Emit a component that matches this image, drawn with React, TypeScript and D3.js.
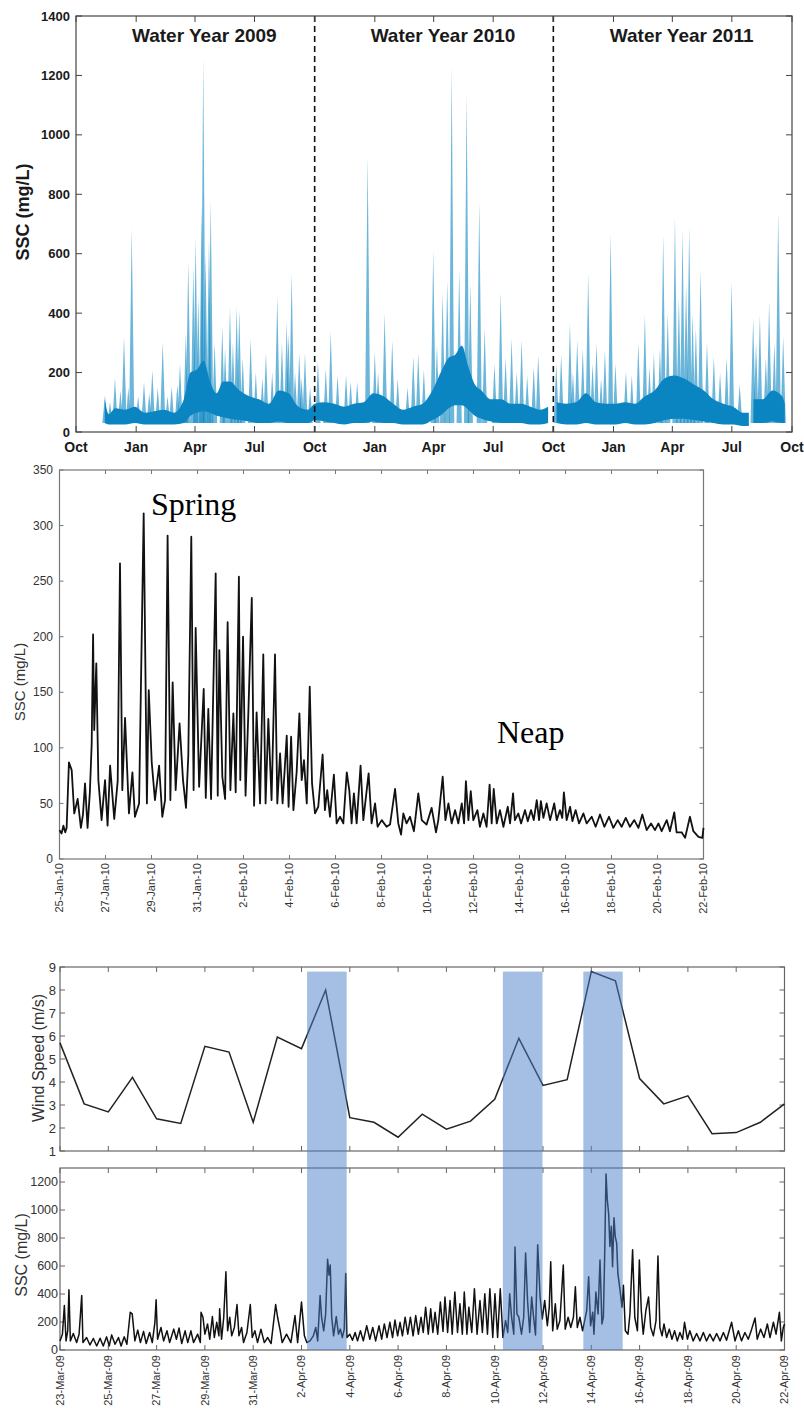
import React from "react";
import * as d3 from "d3";

const DAY = 864e5;

// ---------- panel A: SSC over three water years ----------
const wyStart = Date.UTC(2008, 9, 1);
const wyEnd = Date.UTC(2011, 9, 1);
const wyBreaks = [Date.UTC(2009, 9, 1), Date.UTC(2010, 9, 1)];
const wyLabels = ["Water Year 2009", "Water Year 2010", "Water Year 2011"];
// envelope of the dense 15-min record, days after 1-Oct-2008 (null = gap)
const wyEnvDays = [44, 50, 60, 75, 90, 105, 120, 135, 150, 165, 175, 185, 195, 205, 215, 225, 235, 250, 265, 280, 295, 310, 325, 340, 355, 365, 380, 395, 410, 425, 440, 455, 470, 485, 500, 515, 530, 545, 560, 570, 580, 590, 600, 610, 620, 635, 650, 665, 680, 695, 710, 722, 728, 735, 750, 765, 780, 795, 810, 825, 840, 855, 870, 885, 900, 915, 930, 945, 960, 975, 990, 1005, 1020, 1029, 1032, 1036, 1050, 1065, 1080, 1084];
const wyEnvLow = [30, 25, 25, 25, 30, 25, 25, 25, 25, 30, 55, 65, 70, 65, 55, 50, 45, 40, 35, 30, 30, 35, 30, 30, 30, 40, 35, 30, 25, 30, 30, 35, 30, 30, 25, 25, 25, 40, 60, 80, 90, 90, 75, 55, 45, 35, 30, 30, 30, 25, 25, 30, null, 30, 25, 25, 30, 25, 25, 25, 30, 25, 25, 30, 40, 45, 45, 40, 35, 30, 25, 25, 20, 20, null, 30, 30, 35, 30, 30];
const wyEnvHigh = [110, 60, 80, 75, 85, 65, 70, 75, 65, 110, 200, 210, 240, 170, 130, 170, 170, 140, 120, 110, 95, 140, 130, 85, 75, 95, 100, 95, 85, 95, 100, 130, 120, 95, 75, 85, 95, 140, 210, 250, 260, 290, 220, 160, 140, 110, 110, 95, 95, 85, 75, 85, null, 100, 95, 100, 130, 100, 95, 95, 100, 95, 120, 140, 180, 190, 180, 160, 140, 110, 95, 85, 65, 65, null, 110, 110, 140, 120, 95];
// event spikes: [days after 1-Oct-2008, peak mg/L]
const wySpikes = [
  [44.3, 123], [52, 100], [59.6, 180], [68, 140], [73.4, 320], [80, 150], [85.2, 685], [95, 120], [104, 168], [112, 130],
  [116.7, 208], [125, 150], [132.6, 303], [140, 120], [146.3, 152], [155, 160], [159, 230], [168, 330], [171.7, 573], [179.4, 556],
  [183, 651], [187, 450], [192.2, 763], [194.6, 1257], [198, 600], [203.4, 651], [206, 780], [212, 300], [223.7, 354], [228, 280],
  [235.5, 421], [240, 300], [245.7, 421], [249.7, 410], [255, 250], [267.1, 315], [275, 200], [285, 180], [290.5, 265], [300, 200],
  [307.8, 455], [315, 300], [322.2, 370], [325, 330], [329.8, 533], [335, 200], [341.4, 265], [345, 180], [350.2, 265], [358, 150],
  [370, 236], [382, 213], [389.6, 337], [400, 190], [413, 191], [420, 170], [430, 168], [446, 926], [457, 269], [462, 200],
  [472, 399], [483.6, 309], [492, 180], [507, 150], [515.8, 253], [523.4, 264], [532, 210], [546.3, 612], [552, 290], [560.7, 466],
  [567.7, 511], [574.5, 1229], [586, 545], [597.4, 1140], [603, 500], [616.7, 775], [625, 350], [640, 230], [649.4, 472], [657, 250],
  [666.2, 315], [674, 200], [681.5, 309], [690, 190], [700, 220], [706.9, 258],
  [734.5, 230], [742, 260], [755.4, 365], [760, 200], [766.5, 309], [775, 280], [783.3, 533], [790, 230], [796, 298], [803, 180],
  [808.9, 275], [817.6, 668], [825, 230], [841, 203], [850, 190], [860, 300], [870, 393], [877, 220], [883.8, 264], [893, 280],
  [898, 662], [905, 400], [916, 724], [922, 450], [927.6, 679], [933, 500], [937.8, 690], [943, 400], [948, 350], [955.2, 545],
  [965, 300], [975.5, 253], [985, 200], [995, 250], [1002.6, 505], [1015, 160], [1035.6, 382], [1040, 300], [1045.9, 393], [1055, 250],
  [1060, 438], [1068, 300], [1073.9, 741], [1081.5, 320],
];

// ---------- panel B: spring-neap SSC, days after 25-Jan-2010 ----------
const snStart = Date.UTC(2010, 0, 25);
const snLength = 28;
const snSeries = [
  [0, 26], [0.09, 23], [0.17, 30], [0.25, 24], [0.31, 28], [0.41, 87], [0.53, 80], [0.64, 41], [0.79, 54], [0.93, 28],
  [1.02, 40], [1.11, 68], [1.22, 28], [1.32, 60], [1.4, 104], [1.46, 202], [1.51, 116], [1.6, 176], [1.69, 71], [1.83, 35],
  [1.98, 71], [2.09, 30], [2.2, 84], [2.38, 36], [2.53, 70], [2.63, 266], [2.73, 62], [2.85, 127], [3.02, 41], [3.17, 78],
  [3.28, 38], [3.46, 50], [3.66, 311], [3.8, 50], [3.88, 152], [4.01, 87], [4.15, 53], [4.33, 84], [4.47, 38], [4.59, 53],
  [4.7, 291], [4.82, 53], [4.92, 159], [5.05, 62], [5.22, 122], [5.37, 71], [5.5, 46], [5.6, 93], [5.73, 290], [5.83, 62],
  [5.92, 208], [6.07, 65], [6.27, 153], [6.36, 55], [6.47, 135], [6.59, 54], [6.79, 257], [6.88, 57], [6.95, 188], [7.08, 74],
  [7.2, 54], [7.31, 213], [7.43, 62], [7.56, 131], [7.66, 60], [7.8, 254], [7.86, 71], [7.98, 200], [8.09, 57], [8.21, 131],
  [8.36, 235], [8.46, 48], [8.57, 132], [8.72, 50], [8.86, 184], [8.96, 50], [9.08, 126], [9.22, 53], [9.37, 184], [9.47, 50],
  [9.59, 95], [9.7, 50], [9.88, 111], [9.96, 47], [10.07, 110], [10.17, 44], [10.31, 78], [10.43, 131], [10.53, 71], [10.63, 89],
  [10.75, 50], [10.88, 155], [10.98, 68], [11.11, 41], [11.25, 47], [11.44, 94], [11.54, 44], [11.64, 62], [11.76, 38], [11.93, 76],
  [12.05, 32], [12.2, 38], [12.34, 32], [12.49, 78], [12.6, 62], [12.7, 32], [12.8, 59], [12.92, 32], [13.09, 84], [13.21, 35],
  [13.33, 57], [13.44, 77], [13.57, 32], [13.72, 50], [13.83, 29], [14.01, 35], [14.22, 29], [14.37, 31], [14.59, 63], [14.73, 32],
  [14.85, 22], [14.95, 41], [15.09, 32], [15.24, 38], [15.41, 25], [15.6, 59], [15.75, 35], [15.96, 31], [16.18, 46], [16.37, 24],
  [16.47, 35], [16.66, 74], [16.78, 35], [16.91, 50], [17.05, 32], [17.2, 44], [17.34, 32], [17.49, 50], [17.59, 32], [17.67, 70],
  [17.78, 35], [17.88, 61], [17.99, 35], [18.17, 44], [18.28, 29], [18.43, 41], [18.57, 29], [18.7, 67], [18.79, 32], [18.88, 63],
  [19.01, 32], [19.15, 44], [19.3, 29], [19.49, 47], [19.59, 32], [19.72, 59], [19.8, 35], [19.95, 41], [20.07, 32], [20.24, 44],
  [20.36, 34], [20.5, 44], [20.62, 35], [20.75, 53], [20.85, 35], [20.93, 52], [21.04, 37], [21.18, 50], [21.33, 35], [21.51, 50],
  [21.62, 35], [21.76, 44], [21.86, 37], [21.93, 60], [22.05, 35], [22.2, 47], [22.3, 34], [22.44, 44], [22.59, 32], [22.78, 41],
  [22.92, 32], [23.14, 38], [23.31, 29], [23.5, 40], [23.69, 29], [23.89, 38], [24.08, 28], [24.27, 35], [24.44, 29], [24.62, 37],
  [24.8, 29], [24.99, 35], [25.17, 28], [25.34, 40], [25.53, 26], [25.72, 32], [25.89, 26], [26.04, 32], [26.18, 25], [26.4, 35],
  [26.54, 25], [26.73, 42], [26.83, 24], [27.05, 24], [27.2, 19], [27.41, 38], [27.56, 25], [27.78, 20], [27.95, 19], [28, 28],
];

// ---------- panel C: wind and SSC, days after 23-Mar-2009 ----------
const stStart = Date.UTC(2009, 2, 23);
const stLength = 30;
const windSpeed = [5.7, 3.05, 2.7, 4.2, 2.4, 2.2, 5.55, 5.3, 2.25, 5.95, 5.45, 8.0, 2.45, 2.25, 1.6, 2.6, 1.95, 2.3, 3.25, 5.9, 3.85, 4.1, 8.8, 8.4, 4.15, 3.05, 3.4, 1.75, 1.8, 2.25, 3.05];
const stormBands = [[10.23, 11.87], [18.34, 19.98], [21.67, 23.3]];
const bandTopWind = 8.8;
const stormSSC = [
  [0, 65], [0.1, 113], [0.18, 318], [0.25, 65], [0.32, 137], [0.37, 431], [0.43, 65], [0.55, 118], [0.69, 53], [0.79, 113],
  [0.9, 390], [0.95, 53], [1.1, 89], [1.24, 36], [1.38, 82], [1.52, 29], [1.66, 84], [1.79, 29], [1.93, 94], [2.04, 29],
  [2.14, 108], [2.28, 41], [2.42, 89], [2.53, 29], [2.66, 94], [2.77, 41], [2.91, 270], [2.99, 258], [3.1, 65], [3.22, 142],
  [3.33, 53], [3.46, 133], [3.57, 46], [3.71, 125], [3.82, 53], [3.93, 198], [3.98, 359], [4.04, 77], [4.18, 161], [4.29, 65],
  [4.43, 137], [4.54, 53], [4.71, 149], [4.82, 77], [4.93, 157], [5.04, 46], [5.18, 137], [5.29, 53], [5.42, 137], [5.53, 53],
  [5.7, 113], [5.81, 53], [5.84, 270], [5.92, 234], [6.0, 113], [6.11, 186], [6.2, 77], [6.31, 239], [6.39, 89], [6.49, 198],
  [6.58, 101], [6.61, 294], [6.69, 77], [6.78, 234], [6.87, 559], [6.94, 137], [7.03, 234], [7.11, 101], [7.22, 161], [7.33, 325],
  [7.41, 101], [7.52, 161], [7.6, 53], [7.74, 125], [7.88, 325], [7.96, 89], [8.07, 137], [8.18, 53], [8.32, 149], [8.46, 53],
  [8.6, 89], [8.74, 46], [8.93, 325], [9.01, 234], [9.12, 137], [9.2, 53], [9.38, 113], [9.56, 53], [9.73, 246], [9.84, 53],
  [10.0, 342], [10.12, 101], [10.22, 53], [10.35, 65], [10.49, 101], [10.59, 161], [10.67, 65], [10.77, 390], [10.83, 234], [10.92, 137],
  [11.0, 258], [11.08, 648], [11.14, 535], [11.19, 607], [11.25, 234], [11.33, 101], [11.44, 239], [11.53, 113], [11.61, 149], [11.69, 89],
  [11.77, 149], [11.83, 547], [11.88, 89], [12.0, 113], [12.11, 70], [12.22, 125], [12.32, 65], [12.44, 137], [12.56, 65], [12.7, 173],
  [12.83, 77], [12.95, 161], [13.07, 65], [13.21, 173], [13.32, 77], [13.43, 186], [13.54, 89], [13.66, 198], [13.77, 89], [13.87, 214],
  [13.98, 101], [14.08, 198], [14.18, 101], [14.29, 234], [14.4, 113], [14.51, 234], [14.62, 101], [14.73, 246], [14.84, 113], [14.95, 234],
  [15.04, 125], [15.14, 306], [15.25, 113], [15.35, 294], [15.44, 125], [15.53, 270], [15.64, 113], [15.75, 342], [15.86, 133], [15.94, 378],
  [16.05, 125], [16.15, 354], [16.24, 113], [16.35, 414], [16.46, 125], [16.56, 330], [16.66, 113], [16.74, 414], [16.85, 113], [16.93, 306],
  [17.05, 125], [17.16, 438], [17.27, 113], [17.39, 354], [17.49, 125], [17.59, 402], [17.7, 113], [17.8, 438], [17.92, 89], [18.01, 402],
  [18.12, 89], [18.23, 438], [18.34, 89], [18.45, 210], [18.54, 125], [18.62, 402], [18.7, 234], [18.79, 113], [18.84, 735], [18.92, 258],
  [19.0, 234], [19.11, 113], [19.2, 234], [19.28, 692], [19.36, 354], [19.45, 125], [19.53, 378], [19.61, 234], [19.69, 108], [19.78, 752],
  [19.88, 378], [19.97, 222], [20.07, 354], [20.18, 173], [20.26, 306], [20.32, 631], [20.4, 137], [20.51, 330], [20.59, 149], [20.7, 210],
  [20.84, 607], [20.92, 149], [21.04, 234], [21.15, 161], [21.26, 234], [21.34, 451], [21.42, 161], [21.53, 234], [21.64, 137], [21.81, 282],
  [21.89, 523], [21.97, 173], [22.06, 270], [22.11, 113], [22.19, 414], [22.28, 258], [22.36, 643], [22.44, 186], [22.5, 234], [22.55, 643],
  [22.61, 1258], [22.66, 1077], [22.72, 969], [22.77, 740], [22.83, 884], [22.88, 595], [22.94, 945], [22.99, 812], [23.05, 764], [23.1, 547],
  [23.19, 427], [23.27, 306], [23.33, 463], [23.41, 137], [23.52, 113], [23.6, 258], [23.71, 716], [23.8, 234], [23.91, 137], [23.99, 643],
  [24.07, 282], [24.15, 113], [24.26, 282], [24.37, 378], [24.46, 161], [24.57, 101], [24.68, 210], [24.76, 672], [24.84, 161], [24.93, 101],
  [25.01, 186], [25.12, 89], [25.23, 149], [25.34, 77], [25.45, 137], [25.56, 65], [25.67, 125], [25.78, 77], [25.86, 198], [25.98, 77],
  [26.08, 137], [26.22, 65], [26.36, 118], [26.5, 65], [26.64, 125], [26.77, 65], [26.91, 113], [27.05, 65], [27.19, 118], [27.33, 65],
  [27.47, 125], [27.6, 70], [27.81, 198], [27.95, 65], [28.09, 137], [28.22, 65], [28.36, 125], [28.5, 77], [28.64, 149], [28.78, 229],
  [28.87, 77], [29.01, 149], [29.15, 89], [29.29, 186], [29.4, 89], [29.54, 198], [29.65, 113], [29.79, 270], [29.87, 65], [29.95, 161],
  [30.0, 186],
];

const sans = "'Liberation Sans', Arial, sans-serif";
const serif = "'Liberation Serif', 'Times New Roman', serif";
const at = (start: number, d: number) => new Date(start + d * DAY);

// frame with inward ticks on all four sides
const Frame = ({ x, y, xt, yt, len = 5, stroke = "#555" }: any) => {
  const [x0, x1] = x.range();
  const [y0, y1] = y.range();
  return (
    <g stroke={stroke} fill="none">
      {xt.map((t: any, i: number) => (
        <g key={"x" + i}>
          <line x1={x(t)} x2={x(t)} y1={y0} y2={y0 - len} />
          <line x1={x(t)} x2={x(t)} y1={y1} y2={y1 + len} />
        </g>
      ))}
      {yt.map((t: any, i: number) => (
        <g key={"y" + i}>
          <line x1={x0} x2={x0 + len} y1={y(t)} y2={y(t)} />
          <line x1={x1} x2={x1 - len} y1={y(t)} y2={y(t)} />
        </g>
      ))}
      <rect x={x0} y={y1} width={x1 - x0} height={y0 - y1} strokeWidth={1.2} />
    </g>
  );
};

const WaterYears = () => {
  const x = d3.scaleUtc().domain([wyStart, wyEnd]).range([76, 792]);
  const y = d3.scaleLinear().domain([0, 1400]).range([432, 16]);
  const env = wyEnvDays.map((d, i) => ({ t: at(wyStart, d), lo: wyEnvLow[i], hi: wyEnvHigh[i] }));
  const band = d3.area<any>().defined((d) => d.lo != null).x((d) => x(d.t)).y0((d) => y(d.lo)).y1((d) => y(d.hi)).curve(d3.curveMonotoneX);
  const months = x.ticks(d3.utcMonth.every(3) as any);
  const yt = d3.range(0, 1401, 200);
  const fmt = d3.utcFormat("%b");
  const bounds = [wyStart, ...wyBreaks, wyEnd];
  return (
    <g>
      {wySpikes.map(([d, v], i) => {
        const p = d3.path();
        p.moveTo(x(at(wyStart, d - 4)), y(30));
        p.lineTo(x(at(wyStart, d)), y(v));
        p.lineTo(x(at(wyStart, d + 4)), y(30));
        p.closePath();
        return <path key={i} d={p.toString()} fill="#0a85c2" opacity={0.6} />;
      })}
      <path d={band(env) || ""} fill="#0a85c2" />
      {wyBreaks.map((b, i) => (
        <line key={i} x1={x(b)} x2={x(b)} y1={16} y2={432} stroke="#111" strokeWidth={1.6} strokeDasharray="6,4" />
      ))}
      <Frame x={x} y={y} xt={months} yt={yt} len={6} stroke="#444" />
      <g fontFamily={sans} fontWeight="bold" fill="#1a1a1a">
        {yt.map((t) => (
          <text key={t} x={70} y={y(t)} dy="0.35em" textAnchor="end" fontSize={13}>{t}</text>
        ))}
        {months.map((t, i) => (
          <text key={i} x={x(t)} y={452} textAnchor="middle" fontSize={14}>{fmt(t)}</text>
        ))}
        {wyLabels.map((l, i) => (
          <text key={l} x={(x(bounds[i]) + x(bounds[i + 1])) / 2 + 9} y={42} textAnchor="middle" fontSize={19}>{l}</text>
        ))}
        <text transform="translate(29,212) rotate(-90)" textAnchor="middle" fontSize={18}>SSC (mg/L)</text>
      </g>
    </g>
  );
};

const SpringNeap = () => {
  const x = d3.scaleUtc().domain([at(snStart, 0), at(snStart, snLength)]).range([59.5, 703.5]);
  const y = d3.scaleLinear().domain([0, 350]).range([859, 470]);
  const line = d3.line<any>().x((d) => x(at(snStart, d[0]))).y((d) => y(d[1]));
  const xt = d3.range(0, snLength + 1, 2).map((d) => at(snStart, d));
  const yt = d3.range(0, 351, 50);
  const fmt = d3.utcFormat("%-d-%b-%y");
  return (
    <g>
      <Frame x={x} y={y} xt={xt} yt={yt} len={4} stroke="#777" />
      <path d={line(snSeries) || ""} fill="none" stroke="#111" strokeWidth={1.8} strokeLinejoin="round" />
      <g fontFamily={sans} fill="#333">
        {yt.map((t) => (
          <text key={t} x={53} y={y(t)} dy="0.35em" textAnchor="end" fontSize={12}>{t}</text>
        ))}
        {xt.map((t, i) => (
          <text key={i} transform={`translate(${x(t)},${863}) rotate(-90)`} dy="0.35em" textAnchor="end" fontSize={11}>{fmt(t)}</text>
        ))}
        <text transform="translate(25,682) rotate(-90)" textAnchor="middle" fontSize={15}>SSC (mg/L)</text>
      </g>
      <g fontFamily={serif} fill="#000" fontSize={32}>
        <text x={151} y={515}>Spring</text>
        <text x={497} y={743}>Neap</text>
      </g>
    </g>
  );
};

const WindStorm = () => {
  const x = d3.scaleUtc().domain([at(stStart, 0), at(stStart, stLength)]).range([60, 784.5]);
  const yw = d3.scaleLinear().domain([1, 9]).range([1151, 967]);
  const ys = d3.scaleLinear().domain([0, 1300]).range([1350, 1168]);
  const xt = d3.range(0, stLength + 1, 2).map((d) => at(stStart, d));
  const fmt = d3.utcFormat("%-d-%b-%y");
  const wind = d3.line<number>().x((_, i) => x(at(stStart, i))).y((v) => yw(v));
  const ssc = d3.line<any>().x((d) => x(at(stStart, d[0]))).y((d) => ys(d[1]));
  const wyt = d3.range(1, 10);
  const syt = d3.range(0, 1201, 200);
  return (
    <g>
      <Frame x={x} y={yw} xt={xt} yt={wyt} len={5} stroke="#666" />
      <Frame x={x} y={ys} xt={xt} yt={syt} len={5} stroke="#666" />
      <path d={wind(windSpeed) || ""} fill="none" stroke="#222" strokeWidth={1.5} />
      <path d={ssc(stormSSC) || ""} fill="none" stroke="#111" strokeWidth={1.5} strokeLinejoin="round" />
      {stormBands.map(([a, b], i) => (
        <rect key={i} x={x(at(stStart, a))} width={x(at(stStart, b)) - x(at(stStart, a))} y={yw(bandTopWind)} height={ys(0) - yw(bandTopWind)} fill="#4a7fc8" opacity={0.5} />
      ))}
      <g fontFamily={sans} fill="#333">
        {wyt.map((t) => (
          <text key={t} x={56} y={yw(t)} dy="0.35em" textAnchor="end" fontSize={13}>{t}</text>
        ))}
        {syt.map((t) => (
          <text key={t} x={58} y={ys(t)} dy="0.35em" textAnchor="end" fontSize={12.5}>{t}</text>
        ))}
        {xt.map((t, i) => (
          <text key={i} transform={`translate(${x(t)},${1355}) rotate(-90)`} dy="0.35em" textAnchor="end" fontSize={11}>{fmt(t)}</text>
        ))}
        <text transform="translate(44,1058) rotate(-90)" textAnchor="middle" fontSize={16}>Wind Speed (m/s)</text>
        <text transform="translate(27,1255) rotate(-90)" textAnchor="middle" fontSize={16}>SSC (mg/L)</text>
      </g>
    </g>
  );
};

export default function App() {
  return (
    <svg width={804} height={1408} style={{ position: "absolute", left: 0, top: 0, background: "#fff" }}>
      <rect width={804} height={1408} fill="#fff" />
      <WaterYears />
      <SpringNeap />
      <WindStorm />
    </svg>
  );
}
